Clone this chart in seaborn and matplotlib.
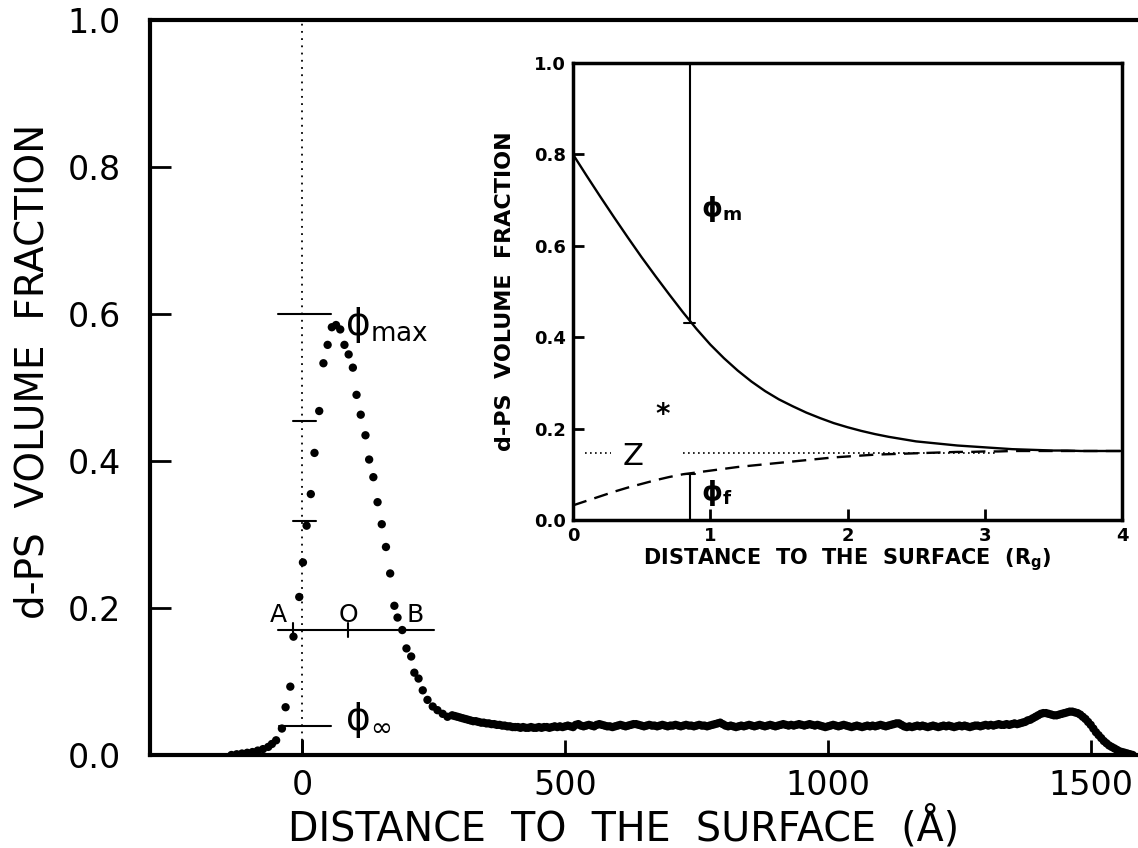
import matplotlib
matplotlib.use("Agg")
import matplotlib.pyplot as plt
import numpy as np
import pandas as pd
import seaborn as sns

# ---------------- data ----------------
tail_x = [-135, -125, -115, -105, -95, -85, -75, -65, -58]
tail_y = [0.000, 0.001, 0.002, 0.003, 0.004, 0.006, 0.008, 0.011, 0.015]

peak_x = [-50, -39, -32, -23, -17, -6, 1, 8, 16, 23, 32, 40, 48, 56, 64, 72, 80,
          88, 96, 103, 111, 120, 127, 135, 143, 151, 159, 167, 175, 181, 190,
          198, 207, 213, 221, 229, 238, 248, 257, 267, 276]
peak_y = [0.020, 0.036, 0.065, 0.093, 0.161, 0.215, 0.262, 0.312, 0.355, 0.411,
          0.468, 0.533, 0.558, 0.582, 0.585, 0.579, 0.558, 0.545, 0.527, 0.490,
          0.463, 0.435, 0.402, 0.378, 0.344, 0.314, 0.283, 0.247, 0.203, 0.187,
          0.170, 0.145, 0.134, 0.112, 0.104, 0.088, 0.075, 0.066, 0.061, 0.056,
          0.052]

flat_x = list(range(285, 1385, 5))
flat_y = [0.054, 0.053, 0.052, 0.051, 0.050, 0.049, 0.048, 0.047, 0.046, 0.046,
          0.045, 0.044, 0.044, 0.043, 0.043, 0.042, 0.042, 0.041, 0.041, 0.040,
          0.040, 0.039, 0.039, 0.038, 0.038, 0.038, 0.037, 0.038, 0.037, 0.037,
          0.038, 0.037, 0.037, 0.038, 0.037, 0.038, 0.038, 0.037, 0.038, 0.039,
          0.038, 0.039, 0.038, 0.039, 0.040, 0.039, 0.038, 0.041, 0.042, 0.040,
          0.039, 0.040, 0.041, 0.040, 0.039, 0.041, 0.042, 0.041, 0.040, 0.039,
          0.039, 0.038, 0.039, 0.040, 0.041, 0.040, 0.039, 0.040, 0.041, 0.042,
          0.042, 0.041, 0.040, 0.039, 0.040, 0.041, 0.040, 0.040, 0.039, 0.040,
          0.041, 0.040, 0.039, 0.040, 0.040, 0.041, 0.040, 0.039, 0.040, 0.041,
          0.040, 0.040, 0.039, 0.040, 0.041, 0.040, 0.040, 0.039, 0.040, 0.041,
          0.042, 0.043, 0.044, 0.042, 0.040, 0.039, 0.040, 0.039, 0.038, 0.039,
          0.040, 0.039, 0.040, 0.041, 0.040, 0.039, 0.040, 0.041, 0.040, 0.039,
          0.040, 0.041, 0.040, 0.039, 0.040, 0.041, 0.042, 0.041, 0.040, 0.041,
          0.040, 0.041, 0.042, 0.041, 0.040, 0.041, 0.042, 0.041, 0.040, 0.041,
          0.040, 0.039, 0.038, 0.039, 0.040, 0.041, 0.040, 0.039, 0.040, 0.041,
          0.040, 0.039, 0.038, 0.039, 0.040, 0.039, 0.038, 0.039, 0.040, 0.039,
          0.040, 0.039, 0.040, 0.041, 0.040, 0.039, 0.040, 0.041, 0.042, 0.043,
          0.043, 0.041, 0.039, 0.038, 0.039, 0.038, 0.039, 0.040, 0.039, 0.040,
          0.039, 0.038, 0.039, 0.040, 0.039, 0.038, 0.039, 0.040, 0.039, 0.040,
          0.039, 0.038, 0.039, 0.040, 0.039, 0.040, 0.039, 0.038, 0.039, 0.040,
          0.040, 0.039, 0.040, 0.041, 0.040, 0.041, 0.040, 0.041, 0.042, 0.041,
          0.041, 0.042, 0.041, 0.042, 0.043, 0.042, 0.043, 0.044, 0.045, 0.047]

end_x = list(range(1385, 1585, 5))
end_y = [0.048, 0.050, 0.052, 0.054, 0.056, 0.057, 0.057, 0.056, 0.055, 0.054,
         0.054, 0.055, 0.056, 0.057, 0.058, 0.059, 0.059, 0.058, 0.057, 0.055,
         0.052, 0.049, 0.045, 0.041, 0.036, 0.031, 0.027, 0.023, 0.019, 0.016,
         0.013, 0.011, 0.009, 0.007, 0.005, 0.004, 0.003, 0.002, 0.001, 0.000]

main_xticks = [0, 500, 1000, 1500]
main_yticks = [0.0, 0.2, 0.4, 0.6, 0.8, 1.0]

# inset
rg = [round(0.1 * i, 1) for i in range(41)]
solid_phi = [0.800, 0.753, 0.707, 0.662, 0.618, 0.575, 0.534, 0.494, 0.455,
             0.418, 0.384, 0.354, 0.327, 0.303, 0.282, 0.264, 0.249, 0.235,
             0.223, 0.212, 0.203, 0.195, 0.188, 0.182, 0.177, 0.172, 0.169,
             0.166, 0.163, 0.161, 0.159, 0.157, 0.155, 0.154, 0.153, 0.152,
             0.152, 0.151, 0.151, 0.151, 0.151]
dashed_phi = [0.032, 0.042, 0.052, 0.062, 0.071, 0.079, 0.087, 0.094, 0.100,
              0.104, 0.108, 0.112, 0.116, 0.119, 0.122, 0.125, 0.128, 0.131,
              0.134, 0.137, 0.139, 0.141, 0.143, 0.144, 0.145, 0.146, 0.147,
              0.148, 0.149, 0.149, 0.150, 0.150, 0.151, 0.151, 0.151, 0.151,
              0.151, 0.151, 0.151, 0.151, 0.151]
inset_xticks = [0, 1, 2, 3, 4]
inset_yticks = [0.0, 0.2, 0.4, 0.6, 0.8, 1.0]

# ---------------- plotting ----------------
sns.set_theme(style="ticks")
plt.rcParams['font.family'] = ['DejaVu Sans']
plt.rcParams['mathtext.fontset'] = 'dejavusans'
plt.rcParams['mathtext.default'] = 'regular'
plt.rcParams['text.color'] = 'black'
plt.rcParams['axes.labelcolor'] = 'black'
plt.rcParams['xtick.color'] = 'black'
plt.rcParams['ytick.color'] = 'black'

W, H = 1138, 848
fig = plt.figure(figsize=(W / 100, H / 100), dpi=100)
fig.patch.set_facecolor('white')

ax = fig.add_axes([150 / W, 93 / H, 988 / W, 735 / H])
df = pd.DataFrame({'x': tail_x + peak_x + flat_x + end_x,
                   'y': tail_y + peak_y + flat_y + end_y})
sns.scatterplot(data=df, x='x', y='y', ax=ax, color='black', s=36,
                edgecolor='none', linewidth=0, legend=False)

ax.set_xlim(-290, 1590)
ax.set_ylim(0, 1)
ax.set_xticks(main_xticks)
ax.set_yticks(main_yticks)
ax.set_xticklabels([str(v) for v in main_xticks])
ax.set_yticklabels([f"{v:.1f}" for v in main_yticks])
ax.tick_params(axis='both', direction='in', width=2,
               labelsize=24, color='black', labelcolor='black')
ax.tick_params(axis='y', pad=21, length=15)
ax.tick_params(axis='x', pad=10, length=11)
for side in ['left', 'bottom', 'top']:
    ax.spines[side].set_linewidth(3)
    ax.spines[side].set_color('black')
ax.spines['right'].set_visible(False)
ax.set_xlabel("DISTANCE  TO  THE  SURFACE  (Å)", fontsize=28.5,
              va='baseline', color='black')
ax.xaxis.set_label_coords(0.479, -0.116)
ax.set_ylabel("d-PS  VOLUME  FRACTION", fontsize=28, color='black')
ax.yaxis.set_label_coords(-0.100, 0.522)

# annotations in main plot
ax.axvline(0, ls=(0, (1, 3)), color='black', lw=1.3)
ax.plot([-47, 55], [0.6, 0.6], color='black', lw=1.5)
ax.plot([-17, 25], [0.455, 0.455], color='black', lw=1.5)
ax.plot([-17, 25], [0.318, 0.318], color='black', lw=1.5)
ax.plot([-47, 251], [0.170, 0.170], color='black', lw=1.5)
ax.plot([-17, -17], [0.160, 0.180], color='black', lw=1.5)
ax.plot([87, 87], [0.160, 0.180], color='black', lw=1.5)
ax.plot([-44, 55], [0.039, 0.039], color='black', lw=1.5)
ax.plot([0, 0], [0.0, 0.02], color='black', lw=2)
ax.text(82, 0.585, r'$\phi_{max}$', fontsize=27, va='center', color='black')
ax.text(-46, 0.191, 'A', fontsize=18, va='center', ha='center', color='black')
ax.text(87, 0.191, 'O', fontsize=18, va='center', ha='center', color='black')
ax.text(215, 0.191, 'B', fontsize=18, va='center', ha='center', color='black')
ax.text(82, 0.048, r'$\phi_{\infty}$', fontsize=27, va='center', color='black')

# inset
iax = fig.add_axes([573 / W, 328 / H, 549 / W, 457 / H])
sns.lineplot(x=rg, y=solid_phi, ax=iax, color='black', lw=1.7)
sns.lineplot(x=rg, y=dashed_phi, ax=iax, color='black', lw=1.7,
             linestyle=(0, (6, 3.5)))
iax.set_xlim(0, 4)
iax.set_ylim(0, 1)
iax.set_xticks(inset_xticks)
iax.set_yticks(inset_yticks)
iax.set_xticklabels([str(v) for v in inset_xticks], fontweight='bold')
iax.set_yticklabels([f"{v:.1f}" for v in inset_yticks], fontweight='bold')
iax.tick_params(axis='both', direction='in', length=8, width=2,
                labelsize=13, color='black', labelcolor='black', pad=5)
for side in ['left', 'bottom', 'top', 'right']:
    iax.spines[side].set_linewidth(2.5)
    iax.spines[side].set_color('black')
iax.set_xlabel(r"DISTANCE  TO  THE  SURFACE  (R$_\mathbf{g}$)", fontsize=15,
               fontweight='bold', labelpad=1, color='black')
iax.set_ylabel("d-PS  VOLUME  FRACTION", fontsize=16, fontweight='bold',
               labelpad=14, color='black')

iax.plot([0.09, 0.28], [0.147, 0.147], ls=(0, (1, 2)), color='black', lw=1.2)
iax.plot([0.80, 3.1], [0.147, 0.147], ls=(0, (1, 2)), color='black', lw=1.2)
iax.text(0.36, 0.14, 'Z', fontsize=22, va='center', color='black')
iax.text(0.6, 0.23, '*', fontsize=20, va='center', fontweight='bold',
         color='black')
iax.plot([0.85, 0.85], [0.43, 1.0], color='black', lw=1.5)
iax.plot([0.81, 0.89], [0.43, 0.43], color='black', lw=1.5)
iax.plot([0.85, 0.85], [0.0, 0.10], color='black', lw=1.5)
iax.plot([0.81, 0.89], [0.10, 0.10], color='black', lw=1.5)
iax.text(0.93, 0.68, r'$\phi_{m}$', fontsize=19, va='center', fontweight='bold',
         color='black')
iax.text(0.93, 0.06, r'$\phi_{f}$', fontsize=19, va='center', fontweight='bold',
         color='black')

fig.savefig('out.png', dpi=100, facecolor='white')
